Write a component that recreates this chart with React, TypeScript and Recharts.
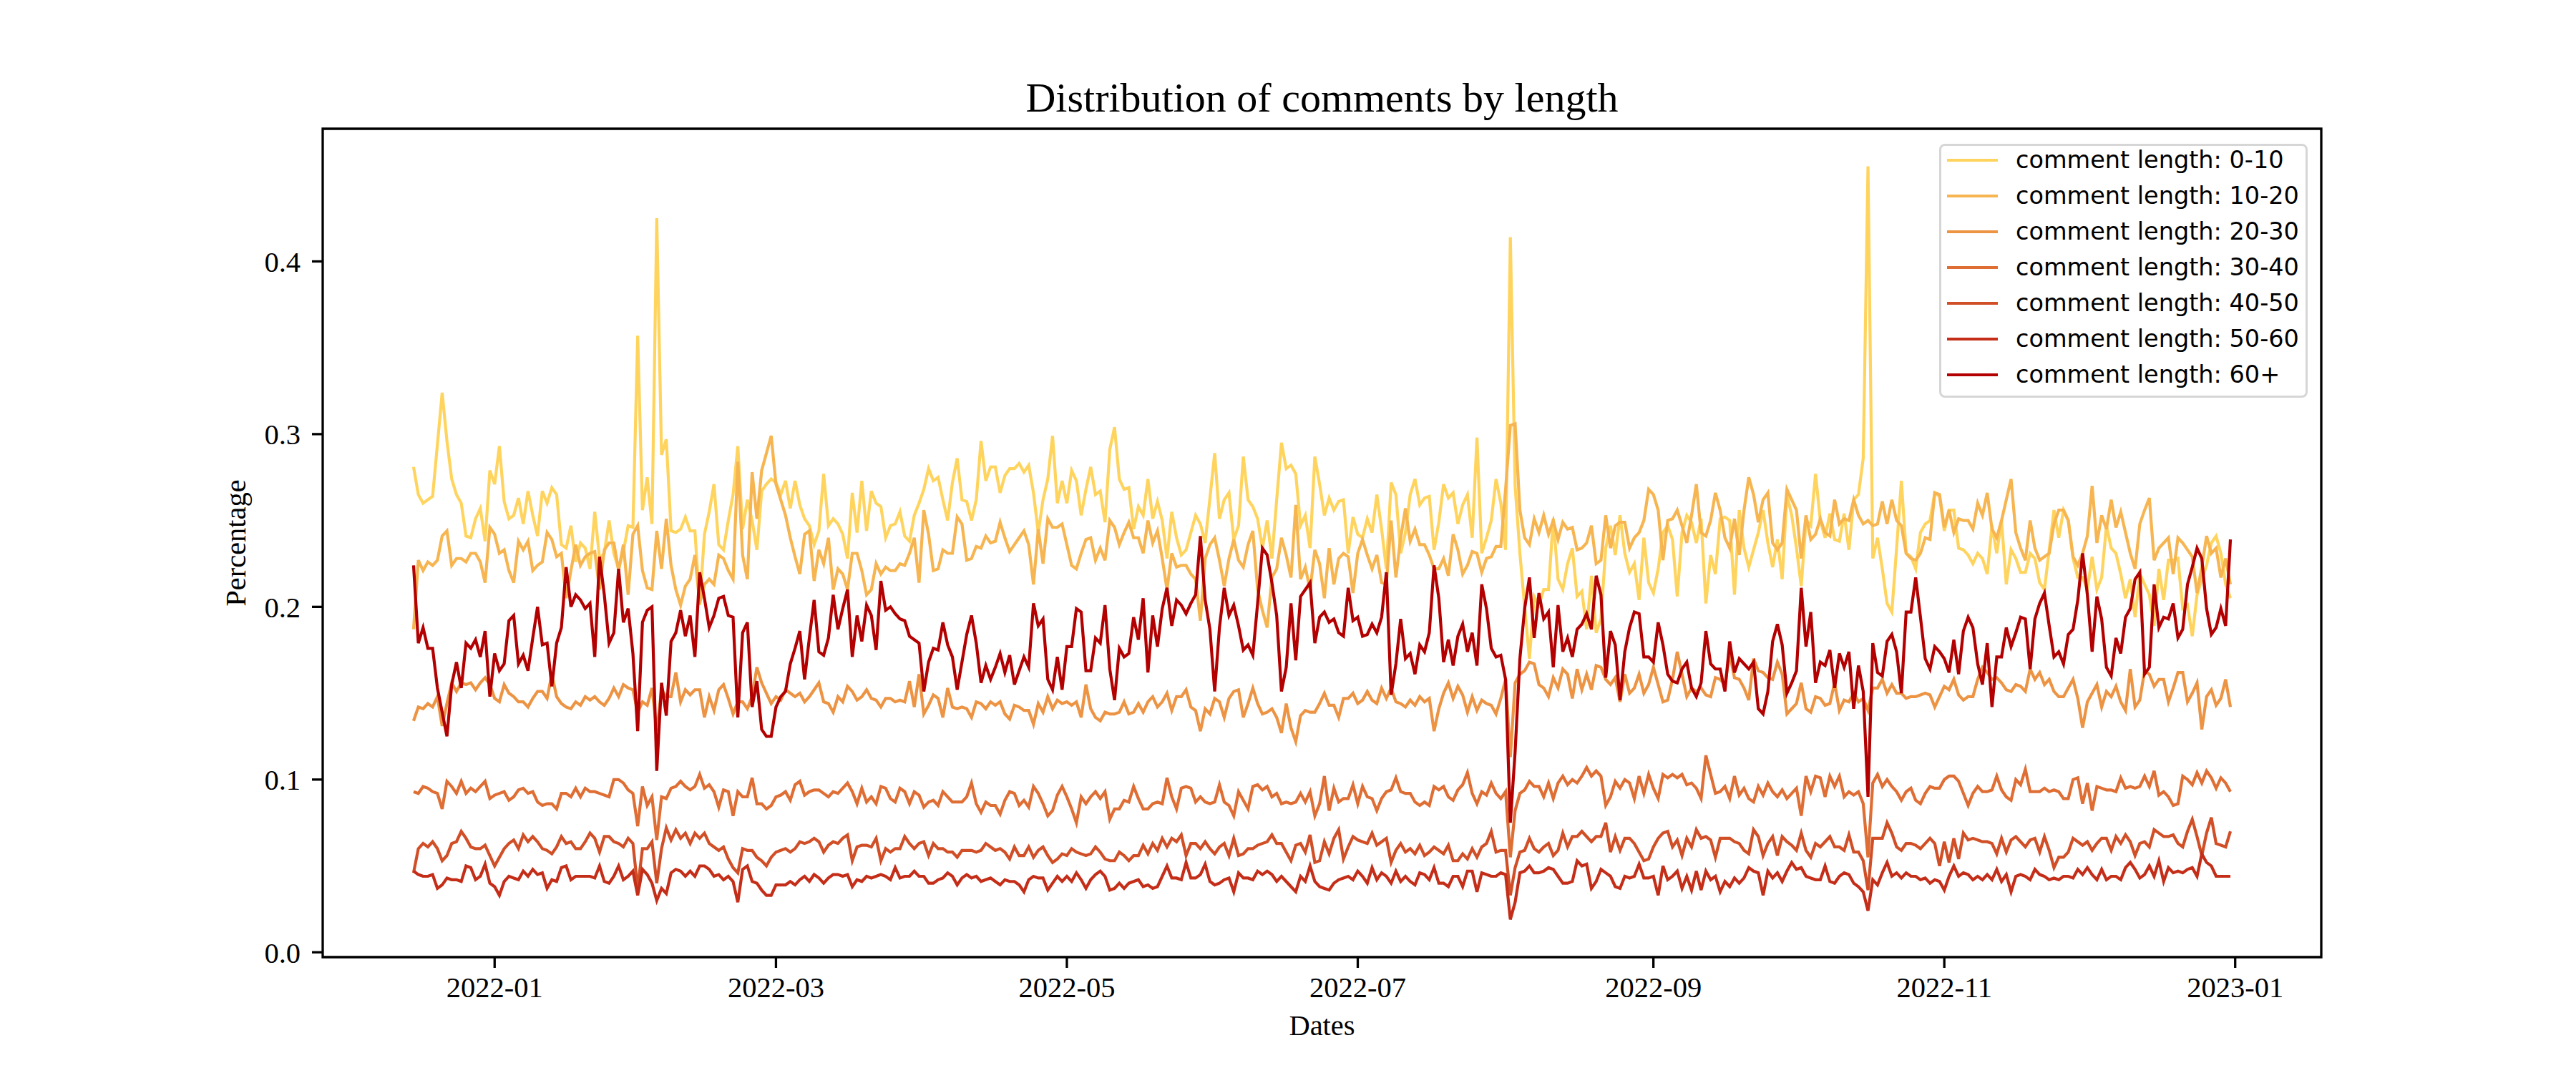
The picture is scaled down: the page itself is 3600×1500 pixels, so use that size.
import React from 'react';
import { LineChart, Line, XAxis, YAxis, ReferenceArea } from 'recharts';

// daily share of comments per length bucket, first day 2021-12-15
const startDate = '2021-12-15';

const seriesNames = [
  'comment length: 0-10',
  'comment length: 10-20',
  'comment length: 20-30',
  'comment length: 30-40',
  'comment length: 40-50',
  'comment length: 50-60',
  'comment length: 60+',
];
const seriesColors = ['#FFD45E', '#F6B550', '#EC9444', '#DF6E35', '#D14F27', '#C42E19', '#B30000'];

const share0to10 = [
  0.281, 0.265, 0.260, 0.262, 0.264, 0.294, 0.324, 0.296, 0.274, 0.265,
  0.260, 0.241, 0.240, 0.251, 0.257, 0.238, 0.279, 0.271, 0.293, 0.261,
  0.251, 0.253, 0.263, 0.248, 0.267, 0.253, 0.241, 0.267, 0.260, 0.269,
  0.265, 0.236, 0.234, 0.247, 0.226, 0.237, 0.234, 0.222, 0.255, 0.228,
  0.231, 0.250, 0.231, 0.222, 0.232, 0.247, 0.246, 0.357, 0.256, 0.275,
  0.248, 0.425, 0.288, 0.297, 0.244, 0.243, 0.245, 0.252, 0.244, 0.244,
  0.201, 0.242, 0.255, 0.271, 0.236, 0.233, 0.250, 0.265, 0.293, 0.245,
  0.262, 0.250, 0.233, 0.267, 0.271, 0.274, 0.272, 0.265, 0.273, 0.257,
  0.273, 0.259, 0.251, 0.247, 0.236,
  0.244, 0.277, 0.247, 0.251, 0.248, 0.242, 0.228, 0.266, 0.243, 0.273,
  0.244, 0.267, 0.260, 0.258, 0.240, 0.247, 0.248, 0.255, 0.241, 0.238,
  0.253, 0.260, 0.268, 0.280, 0.273, 0.275, 0.262, 0.250, 0.272, 0.286,
  0.262, 0.261, 0.250, 0.262, 0.296, 0.273, 0.281, 0.281, 0.266, 0.276,
  0.280, 0.280, 0.283, 0.278, 0.282, 0.266, 0.243, 0.262, 0.274, 0.299,
  0.260, 0.273, 0.260, 0.279, 0.273, 0.253, 0.268, 0.281, 0.265, 0.267,
  0.249, 0.291, 0.304, 0.274, 0.268, 0.269, 0.245, 0.258, 0.253, 0.274,
  0.251, 0.261, 0.250, 0.228, 0.255, 0.240, 0.230, 0.233, 0.243, 0.253,
  0.248, 0.237, 0.263, 0.289, 0.251, 0.262, 0.266, 0.239, 0.247, 0.287,
  0.262, 0.258, 0.251, 0.234, 0.250, 0.228, 0.262, 0.295, 0.280, 0.282,
  0.277, 0.247, 0.253, 0.234, 0.287,
  0.271, 0.253, 0.263, 0.256, 0.261, 0.262, 0.231, 0.252, 0.242, 0.240,
  0.251, 0.243, 0.265, 0.245, 0.222, 0.272, 0.265, 0.231, 0.243, 0.265,
  0.274, 0.259, 0.263, 0.264, 0.233, 0.249, 0.271, 0.263, 0.266, 0.248,
  0.259, 0.265, 0.240, 0.298, 0.231, 0.240, 0.250, 0.274, 0.260, 0.233,
  0.414, 0.270, 0.231, 0.200, 0.170, 0.206, 0.201, 0.210, 0.210, 0.251,
  0.216, 0.210, 0.225, 0.234, 0.206, 0.209, 0.187, 0.218, 0.185, 0.193,
  0.234, 0.247, 0.230, 0.253, 0.231, 0.220, 0.225, 0.204, 0.240, 0.214,
  0.208, 0.222, 0.243, 0.247, 0.239, 0.206, 0.243, 0.253, 0.249, 0.237,
  0.251, 0.202, 0.230, 0.219, 0.251, 0.252, 0.250, 0.207, 0.256, 0.234,
  0.223, 0.233, 0.243, 0.256, 0.237, 0.223, 0.239, 0.216, 0.265, 0.253,
  0.234, 0.212, 0.250, 0.247, 0.277,
  0.250, 0.240, 0.254, 0.239, 0.238, 0.254, 0.233, 0.262, 0.265, 0.286,
  0.455, 0.228, 0.240, 0.222, 0.202, 0.197, 0.234, 0.273, 0.231, 0.229,
  0.222, 0.243, 0.248, 0.250, 0.266, 0.264, 0.244, 0.256, 0.256, 0.234,
  0.233, 0.230, 0.225, 0.231, 0.228, 0.219, 0.247, 0.231, 0.250, 0.213,
  0.233, 0.228, 0.220, 0.220, 0.231, 0.228, 0.214, 0.210, 0.233, 0.256,
  0.240, 0.256, 0.250, 0.228, 0.217, 0.217, 0.210, 0.229, 0.210, 0.217,
  0.247, 0.234, 0.231, 0.219, 0.205, 0.216, 0.194, 0.219, 0.213, 0.207,
  0.189, 0.222, 0.204, 0.227, 0.227, 0.228, 0.199, 0.201, 0.183, 0.207,
  0.216, 0.224, 0.237, 0.241, 0.231, 0.213, 0.205,
];

const share10to20 = [
  0.187, 0.227, 0.221, 0.226, 0.224, 0.227, 0.241, 0.244, 0.224, 0.228,
  0.228, 0.226, 0.231, 0.231, 0.226, 0.214, 0.246, 0.242, 0.231, 0.233,
  0.221, 0.214, 0.238, 0.233, 0.238, 0.221, 0.224, 0.226, 0.243, 0.239,
  0.229, 0.231, 0.205, 0.221, 0.236, 0.224, 0.229, 0.231, 0.232, 0.210,
  0.233, 0.237, 0.237, 0.221, 0.236, 0.207, 0.242, 0.247, 0.221, 0.211,
  0.210, 0.244, 0.222, 0.251, 0.224, 0.210, 0.201, 0.212, 0.216, 0.230,
  0.202, 0.213, 0.216, 0.213, 0.230, 0.228, 0.221, 0.216, 0.284, 0.230,
  0.216, 0.278, 0.251, 0.279, 0.289, 0.299, 0.271, 0.262, 0.253, 0.240,
  0.229, 0.219, 0.242, 0.244, 0.215,
  0.233, 0.225, 0.240, 0.210, 0.222, 0.219, 0.210, 0.231, 0.231, 0.221,
  0.207, 0.210, 0.225, 0.219, 0.223, 0.221, 0.221, 0.225, 0.224, 0.231,
  0.240, 0.214, 0.256, 0.242, 0.221, 0.222, 0.233, 0.231, 0.231, 0.252,
  0.248, 0.227, 0.228, 0.235, 0.234, 0.241, 0.237, 0.238, 0.249, 0.240,
  0.232, 0.236, 0.240, 0.244, 0.236, 0.213, 0.245, 0.225, 0.251, 0.246,
  0.246, 0.248, 0.236, 0.224, 0.222, 0.231, 0.239, 0.240, 0.227, 0.234,
  0.227, 0.250, 0.246, 0.236, 0.243, 0.249, 0.240, 0.240, 0.231, 0.250,
  0.237, 0.244, 0.228, 0.210, 0.231, 0.223, 0.224, 0.224, 0.219, 0.216,
  0.192, 0.228, 0.236, 0.240, 0.227, 0.212, 0.228, 0.239, 0.227, 0.223,
  0.236, 0.244, 0.210, 0.198, 0.188, 0.217, 0.222, 0.240, 0.230, 0.217,
  0.259, 0.216, 0.223, 0.210, 0.233,
  0.225, 0.205, 0.234, 0.213, 0.228, 0.231, 0.229, 0.208, 0.231, 0.239,
  0.230, 0.222, 0.230, 0.214, 0.213, 0.250, 0.217, 0.240, 0.257, 0.238,
  0.245, 0.236, 0.236, 0.230, 0.222, 0.222, 0.228, 0.218, 0.242, 0.233,
  0.219, 0.224, 0.232, 0.231, 0.220, 0.228, 0.229, 0.235, 0.235, 0.268,
  0.305, 0.306, 0.256, 0.240, 0.236, 0.251, 0.243, 0.253, 0.242, 0.250,
  0.239, 0.249, 0.245, 0.246, 0.233, 0.234, 0.237, 0.247, 0.225, 0.227,
  0.253, 0.234, 0.247, 0.249, 0.249, 0.234, 0.240, 0.243, 0.250, 0.268,
  0.265, 0.256, 0.227, 0.250, 0.251, 0.256, 0.247, 0.237, 0.253, 0.271,
  0.243, 0.241, 0.250, 0.266, 0.256, 0.240, 0.234, 0.251, 0.230, 0.256,
  0.275, 0.265, 0.249, 0.262, 0.266, 0.237, 0.233, 0.237, 0.268, 0.262,
  0.256, 0.228, 0.253, 0.239, 0.242,
  0.251, 0.243, 0.241, 0.262, 0.248, 0.251, 0.250, 0.262, 0.253, 0.248,
  0.250, 0.247, 0.248, 0.261, 0.248, 0.262, 0.250, 0.247, 0.231, 0.228,
  0.227, 0.231, 0.240, 0.239, 0.266, 0.265, 0.246, 0.256, 0.243, 0.251,
  0.250, 0.250, 0.245, 0.260, 0.253, 0.266, 0.245, 0.240, 0.250, 0.262,
  0.274, 0.243, 0.234, 0.227, 0.250, 0.234, 0.227, 0.229, 0.231, 0.248,
  0.256, 0.256, 0.250, 0.229, 0.224, 0.231, 0.241, 0.270, 0.237, 0.253,
  0.245, 0.262, 0.246, 0.255, 0.243, 0.231, 0.222, 0.248, 0.256, 0.263,
  0.227, 0.234, 0.237, 0.240, 0.219, 0.240, 0.237, 0.233, 0.229, 0.208,
  0.223, 0.241, 0.231, 0.234, 0.217, 0.228, 0.213,
];

const share20to30 = [
  0.134, 0.142, 0.141, 0.144, 0.142, 0.148, 0.131, 0.144, 0.156, 0.151,
  0.156, 0.155, 0.156, 0.152, 0.156, 0.159, 0.155, 0.147, 0.145, 0.155,
  0.150, 0.148, 0.145, 0.145, 0.142, 0.147, 0.151, 0.151, 0.147, 0.161,
  0.148, 0.144, 0.142, 0.141, 0.145, 0.143, 0.148, 0.146, 0.148, 0.145,
  0.143, 0.147, 0.153, 0.148, 0.155, 0.153, 0.152, 0.139, 0.145, 0.143,
  0.153, 0.128, 0.152, 0.148, 0.148, 0.162, 0.145, 0.152, 0.149, 0.152,
  0.152, 0.136, 0.148, 0.140, 0.152, 0.155, 0.147, 0.138, 0.145, 0.145,
  0.141, 0.148, 0.165, 0.156, 0.150, 0.144, 0.148, 0.146, 0.152, 0.150,
  0.148, 0.150, 0.145, 0.148, 0.152,
  0.156, 0.145, 0.144, 0.139, 0.148, 0.145, 0.154, 0.151, 0.146, 0.148,
  0.152, 0.147, 0.146, 0.142, 0.147, 0.147, 0.145, 0.146, 0.145, 0.157,
  0.142, 0.161, 0.138, 0.143, 0.149, 0.147, 0.136, 0.153, 0.142, 0.141,
  0.142, 0.141, 0.136, 0.145, 0.144, 0.141, 0.145, 0.143, 0.145, 0.138,
  0.135, 0.143, 0.142, 0.140, 0.140, 0.132, 0.144, 0.139, 0.148, 0.141,
  0.146, 0.144, 0.145, 0.143, 0.145, 0.136, 0.155, 0.141, 0.136, 0.134,
  0.139, 0.138, 0.138, 0.139, 0.145, 0.138, 0.139, 0.144, 0.139, 0.145,
  0.148, 0.142, 0.145, 0.150, 0.140, 0.148, 0.148, 0.152, 0.142, 0.140,
  0.128, 0.141, 0.138, 0.147, 0.145, 0.136, 0.147, 0.151, 0.152, 0.136,
  0.144, 0.153, 0.144, 0.138, 0.139, 0.141, 0.136, 0.127, 0.144, 0.130,
  0.122, 0.137, 0.140, 0.139, 0.139,
  0.144, 0.150, 0.143, 0.143, 0.136, 0.147, 0.147, 0.150, 0.144, 0.146,
  0.151, 0.146, 0.144, 0.153, 0.147, 0.153, 0.145, 0.144, 0.142, 0.146,
  0.143, 0.148, 0.145, 0.147, 0.128, 0.141, 0.150, 0.156, 0.147, 0.154,
  0.149, 0.139, 0.148, 0.140, 0.146, 0.144, 0.143, 0.138, 0.147, 0.158,
  0.113, 0.156, 0.161, 0.163, 0.168, 0.167, 0.155, 0.153, 0.148, 0.159,
  0.153, 0.164, 0.161, 0.147, 0.164, 0.152, 0.161, 0.152, 0.166, 0.165,
  0.158, 0.155, 0.159, 0.145, 0.161, 0.150, 0.153, 0.161, 0.150, 0.155,
  0.165, 0.155, 0.145, 0.146, 0.158, 0.174, 0.161, 0.148, 0.153, 0.151,
  0.153, 0.149, 0.148, 0.159, 0.158, 0.155, 0.173, 0.159, 0.158, 0.153,
  0.146, 0.170, 0.163, 0.162, 0.159, 0.158, 0.168, 0.161, 0.138, 0.141,
  0.144, 0.156, 0.141, 0.139, 0.148,
  0.147, 0.143, 0.144, 0.156, 0.140, 0.146, 0.145, 0.150, 0.145, 0.147,
  0.140, 0.153, 0.153, 0.158, 0.150, 0.155, 0.150, 0.150, 0.147, 0.148,
  0.148, 0.149, 0.150, 0.149, 0.142, 0.148, 0.154, 0.152, 0.158, 0.149,
  0.146, 0.148, 0.148, 0.158, 0.165, 0.162, 0.158, 0.159, 0.156, 0.152,
  0.151, 0.155, 0.154, 0.151, 0.164, 0.158, 0.162, 0.155, 0.158, 0.151,
  0.148, 0.148, 0.153, 0.158, 0.147, 0.130, 0.145, 0.150, 0.155, 0.142,
  0.151, 0.148, 0.154, 0.145, 0.140, 0.164, 0.142, 0.146, 0.163, 0.161,
  0.154, 0.158, 0.158, 0.145, 0.153, 0.162, 0.162, 0.145, 0.150, 0.156,
  0.129, 0.148, 0.152, 0.143, 0.147, 0.158, 0.142,
];

const share30to40 = [
  0.093, 0.092, 0.096, 0.095, 0.093, 0.092, 0.083, 0.099, 0.096, 0.092,
  0.099, 0.092, 0.095, 0.093, 0.096, 0.099, 0.089, 0.091, 0.092, 0.093,
  0.088, 0.090, 0.094, 0.095, 0.092, 0.093, 0.087, 0.085, 0.086, 0.086,
  0.083, 0.092, 0.092, 0.090, 0.095, 0.090, 0.095, 0.093, 0.093, 0.092,
  0.091, 0.090, 0.100, 0.100, 0.098, 0.094, 0.092, 0.073, 0.096, 0.085,
  0.090, 0.065, 0.090, 0.089, 0.095, 0.096, 0.099, 0.096, 0.094, 0.096,
  0.103, 0.095, 0.097, 0.093, 0.084, 0.094, 0.093, 0.079, 0.093, 0.090,
  0.090, 0.101, 0.086, 0.086, 0.083, 0.085, 0.090, 0.091, 0.093, 0.088,
  0.097, 0.099, 0.091, 0.093, 0.094,
  0.094, 0.092, 0.090, 0.093, 0.092, 0.095, 0.098, 0.093, 0.086, 0.095,
  0.087, 0.090, 0.086, 0.096, 0.095, 0.089, 0.087, 0.095, 0.093, 0.086,
  0.093, 0.091, 0.084, 0.087, 0.088, 0.085, 0.093, 0.090, 0.087, 0.087,
  0.087, 0.090, 0.098, 0.086, 0.081, 0.087, 0.085, 0.085, 0.080, 0.088,
  0.093, 0.092, 0.085, 0.088, 0.084, 0.096, 0.092, 0.086, 0.079, 0.082,
  0.091, 0.096, 0.090, 0.083, 0.075, 0.090, 0.086, 0.090, 0.093, 0.089,
  0.093, 0.077, 0.083, 0.083, 0.088, 0.087, 0.096, 0.089, 0.083, 0.083,
  0.086, 0.087, 0.086, 0.101, 0.090, 0.083, 0.095, 0.096, 0.095, 0.087,
  0.090, 0.087, 0.086, 0.087, 0.097, 0.087, 0.085, 0.079, 0.093, 0.088,
  0.083, 0.096, 0.097, 0.094, 0.096, 0.090, 0.092, 0.086, 0.087, 0.086,
  0.087, 0.092, 0.087, 0.093, 0.079,
  0.086, 0.102, 0.082, 0.095, 0.087, 0.089, 0.089, 0.097, 0.086, 0.096,
  0.090, 0.089, 0.082, 0.089, 0.093, 0.094, 0.101, 0.093, 0.092, 0.092,
  0.087, 0.085, 0.087, 0.085, 0.096, 0.094, 0.096, 0.090, 0.088, 0.094,
  0.097, 0.104, 0.092, 0.086, 0.093, 0.091, 0.098, 0.092, 0.089, 0.093,
  0.055, 0.082, 0.092, 0.094, 0.099, 0.096, 0.096, 0.090, 0.098, 0.089,
  0.098, 0.102, 0.097, 0.100, 0.098, 0.102, 0.107, 0.102, 0.105, 0.102,
  0.085, 0.090, 0.099, 0.095, 0.100, 0.098, 0.089, 0.102, 0.092, 0.103,
  0.095, 0.089, 0.103, 0.101, 0.103, 0.101, 0.103, 0.097, 0.098, 0.095,
  0.089, 0.114, 0.103, 0.092, 0.093, 0.096, 0.089, 0.102, 0.091, 0.095,
  0.089, 0.087, 0.096, 0.091, 0.098, 0.093, 0.090, 0.094, 0.089, 0.092,
  0.095, 0.079, 0.102, 0.093, 0.102,
  0.101, 0.090, 0.102, 0.096, 0.102, 0.090, 0.093, 0.091, 0.093, 0.086,
  0.055, 0.098, 0.103, 0.096, 0.100, 0.096, 0.093, 0.088, 0.093, 0.095,
  0.088, 0.086, 0.092, 0.096, 0.095, 0.095, 0.100, 0.102, 0.102, 0.099,
  0.092, 0.085, 0.092, 0.096, 0.093, 0.093, 0.094, 0.102, 0.094, 0.090,
  0.088, 0.100, 0.097, 0.106, 0.093, 0.093, 0.093, 0.095, 0.093, 0.094,
  0.093, 0.089, 0.089, 0.100, 0.101, 0.086, 0.098, 0.082, 0.096, 0.095,
  0.094, 0.094, 0.093, 0.101, 0.095, 0.096, 0.095, 0.096, 0.102, 0.096,
  0.105, 0.091, 0.093, 0.090, 0.085, 0.086, 0.102, 0.100, 0.097, 0.104,
  0.098, 0.105, 0.101, 0.095, 0.101, 0.098, 0.093,
];

const share40to50 = [
  0.046, 0.060, 0.063, 0.061, 0.064, 0.060, 0.053, 0.056, 0.063, 0.064,
  0.070, 0.066, 0.061, 0.060, 0.060, 0.062, 0.056, 0.050, 0.055, 0.060,
  0.063, 0.065, 0.060, 0.068, 0.064, 0.067, 0.064, 0.060, 0.059, 0.057,
  0.061, 0.067, 0.063, 0.064, 0.060, 0.060, 0.064, 0.069, 0.066, 0.058,
  0.067, 0.067, 0.064, 0.063, 0.061, 0.066, 0.063, 0.037, 0.060, 0.060,
  0.064, 0.040, 0.060, 0.072, 0.065, 0.071, 0.066, 0.069, 0.063, 0.069,
  0.066, 0.069, 0.063, 0.061, 0.059, 0.061, 0.054, 0.049, 0.046, 0.060,
  0.059, 0.059, 0.055, 0.053, 0.050, 0.055, 0.058, 0.059, 0.060, 0.058,
  0.060, 0.064, 0.063, 0.064, 0.066,
  0.064, 0.058, 0.062, 0.064, 0.063, 0.066, 0.068, 0.053, 0.061, 0.062,
  0.062, 0.061, 0.066, 0.053, 0.060, 0.058, 0.060, 0.060, 0.067, 0.063,
  0.060, 0.063, 0.064, 0.056, 0.063, 0.060, 0.060, 0.058, 0.058, 0.055,
  0.059, 0.059, 0.059, 0.058, 0.059, 0.063, 0.061, 0.059, 0.060, 0.058,
  0.054, 0.061, 0.056, 0.056, 0.061, 0.055, 0.059, 0.061, 0.056, 0.052,
  0.054, 0.057, 0.056, 0.060, 0.058, 0.057, 0.056, 0.057, 0.061, 0.058,
  0.054, 0.053, 0.053, 0.058, 0.056, 0.053, 0.056, 0.056, 0.062, 0.057,
  0.063, 0.059, 0.066, 0.061, 0.066, 0.064, 0.068, 0.056, 0.063, 0.063,
  0.060, 0.064, 0.060, 0.057, 0.061, 0.063, 0.056, 0.066, 0.056, 0.057,
  0.060, 0.060, 0.062, 0.063, 0.064, 0.068, 0.063, 0.063, 0.058, 0.053,
  0.062, 0.063, 0.058, 0.068, 0.052,
  0.053, 0.064, 0.057, 0.066, 0.071, 0.054, 0.061, 0.067, 0.065, 0.064,
  0.063, 0.069, 0.062, 0.064, 0.066, 0.052, 0.059, 0.063, 0.058, 0.060,
  0.057, 0.062, 0.056, 0.058, 0.061, 0.059, 0.057, 0.062, 0.053, 0.053,
  0.057, 0.054, 0.060, 0.055, 0.061, 0.063, 0.070, 0.058, 0.059, 0.059,
  0.033, 0.049, 0.058, 0.059, 0.066, 0.060, 0.058, 0.061, 0.063, 0.056,
  0.059, 0.069, 0.061, 0.067, 0.067, 0.070, 0.067, 0.064, 0.067, 0.067,
  0.075, 0.058, 0.067, 0.059, 0.066, 0.066, 0.063, 0.058, 0.053, 0.054,
  0.061, 0.066, 0.069, 0.070, 0.061, 0.065, 0.056, 0.066, 0.061, 0.071,
  0.066, 0.067, 0.065, 0.055, 0.066, 0.066, 0.066, 0.064, 0.063, 0.059,
  0.057, 0.071, 0.067, 0.056, 0.063, 0.067, 0.056, 0.067, 0.064, 0.062,
  0.059, 0.069, 0.059, 0.055, 0.063,
  0.061, 0.064, 0.067, 0.061, 0.061, 0.059, 0.068, 0.058, 0.058, 0.053,
  0.036, 0.066, 0.066, 0.066, 0.075, 0.069, 0.061, 0.059, 0.063, 0.063,
  0.062, 0.060, 0.063, 0.066, 0.063, 0.050, 0.064, 0.052, 0.066, 0.054,
  0.069, 0.065, 0.066, 0.065, 0.064, 0.064, 0.063, 0.057, 0.066, 0.058,
  0.065, 0.067, 0.064, 0.061, 0.065, 0.066, 0.058, 0.067, 0.059, 0.049,
  0.055, 0.055, 0.058, 0.066, 0.064, 0.062, 0.064, 0.059, 0.063, 0.066,
  0.066, 0.059, 0.067, 0.063, 0.068, 0.064, 0.056, 0.063, 0.064, 0.061,
  0.071, 0.069, 0.067, 0.067, 0.068, 0.063, 0.061, 0.070, 0.077, 0.067,
  0.056, 0.069, 0.078, 0.063, 0.062, 0.061, 0.070,
];

const share50to60 = [
  0.047, 0.045, 0.044, 0.044, 0.045, 0.037, 0.039, 0.043, 0.042, 0.042,
  0.041, 0.050, 0.049, 0.042, 0.044, 0.051, 0.040, 0.038, 0.033, 0.041,
  0.044, 0.043, 0.042, 0.047, 0.044, 0.048, 0.045, 0.046, 0.037, 0.042,
  0.041, 0.049, 0.050, 0.042, 0.044, 0.044, 0.044, 0.044, 0.043, 0.050,
  0.041, 0.040, 0.044, 0.050, 0.042, 0.044, 0.047, 0.033, 0.048, 0.045,
  0.040, 0.030, 0.037, 0.034, 0.046, 0.048, 0.047, 0.044, 0.047, 0.044,
  0.050, 0.050, 0.048, 0.044, 0.045, 0.042, 0.044, 0.041, 0.029, 0.048,
  0.050, 0.041, 0.040, 0.036, 0.033, 0.033, 0.039, 0.039, 0.039, 0.041,
  0.039, 0.042, 0.044, 0.041, 0.045,
  0.043, 0.040, 0.043, 0.045, 0.045, 0.044, 0.045, 0.038, 0.042, 0.041,
  0.044, 0.043, 0.044, 0.045, 0.044, 0.042, 0.049, 0.043, 0.044, 0.044,
  0.047, 0.044, 0.044, 0.040, 0.040, 0.042, 0.043, 0.046, 0.044, 0.039,
  0.043, 0.045, 0.043, 0.044, 0.041, 0.042, 0.043, 0.041, 0.039, 0.042,
  0.041, 0.041, 0.039, 0.035, 0.042, 0.044, 0.043, 0.043, 0.036, 0.040,
  0.044, 0.041, 0.044, 0.041, 0.046, 0.042, 0.037, 0.042, 0.045, 0.047,
  0.044, 0.036, 0.037, 0.040, 0.037, 0.040, 0.041, 0.042, 0.038, 0.039,
  0.037, 0.038, 0.044, 0.050, 0.043, 0.043, 0.042, 0.052, 0.043, 0.043,
  0.045, 0.051, 0.041, 0.039, 0.040, 0.042, 0.043, 0.035, 0.046, 0.043,
  0.043, 0.042, 0.047, 0.045, 0.047, 0.045, 0.041, 0.044, 0.041, 0.038,
  0.035, 0.044, 0.041, 0.050, 0.041,
  0.038, 0.037, 0.036, 0.040, 0.042, 0.043, 0.044, 0.042, 0.047, 0.044,
  0.040, 0.049, 0.042, 0.046, 0.044, 0.040, 0.047, 0.041, 0.044, 0.041,
  0.039, 0.046, 0.045, 0.042, 0.049, 0.040, 0.040, 0.038, 0.044, 0.044,
  0.038, 0.047, 0.047, 0.035, 0.046, 0.045, 0.044, 0.044, 0.046, 0.045,
  0.019, 0.029, 0.046, 0.047, 0.050, 0.046, 0.046, 0.047, 0.049, 0.048,
  0.044, 0.040, 0.040, 0.041, 0.053, 0.050, 0.051, 0.037, 0.041, 0.048,
  0.046, 0.044, 0.038, 0.037, 0.044, 0.043, 0.044, 0.051, 0.043, 0.043,
  0.044, 0.033, 0.050, 0.042, 0.044, 0.047, 0.037, 0.044, 0.036, 0.047,
  0.036, 0.047, 0.042, 0.044, 0.035, 0.041, 0.038, 0.043, 0.040, 0.043,
  0.049, 0.047, 0.046, 0.033, 0.047, 0.043, 0.046, 0.041, 0.047, 0.052,
  0.048, 0.049, 0.044, 0.043, 0.042,
  0.042, 0.050, 0.041, 0.040, 0.044, 0.046, 0.045, 0.040, 0.038, 0.035,
  0.024, 0.042, 0.039, 0.046, 0.052, 0.044, 0.046, 0.043, 0.046, 0.044,
  0.044, 0.042, 0.043, 0.040, 0.042, 0.041, 0.036, 0.044, 0.050, 0.044,
  0.046, 0.045, 0.042, 0.044, 0.042, 0.045, 0.042, 0.048, 0.041, 0.045,
  0.035, 0.044, 0.045, 0.044, 0.042, 0.048, 0.045, 0.044, 0.042, 0.043,
  0.042, 0.044, 0.044, 0.043, 0.048, 0.045, 0.049, 0.045, 0.042, 0.048,
  0.042, 0.044, 0.044, 0.042, 0.049, 0.052, 0.048, 0.043, 0.045, 0.050,
  0.044, 0.053, 0.041, 0.049, 0.046, 0.047, 0.046, 0.048, 0.049, 0.044,
  0.057, 0.052, 0.050, 0.044, 0.044, 0.044, 0.044,
];

const share60plus = [
  0.224, 0.179, 0.188, 0.176, 0.176, 0.153, 0.139, 0.125, 0.155, 0.168,
  0.153, 0.179, 0.176, 0.181, 0.171, 0.186, 0.148, 0.173, 0.163, 0.167,
  0.192, 0.195, 0.167, 0.172, 0.163, 0.182, 0.200, 0.178, 0.179, 0.154,
  0.179, 0.188, 0.223, 0.200, 0.207, 0.204, 0.199, 0.202, 0.171, 0.229,
  0.207, 0.179, 0.185, 0.222, 0.191, 0.199, 0.173, 0.128, 0.191, 0.198,
  0.200, 0.105, 0.156, 0.137, 0.180, 0.185, 0.198, 0.183, 0.195, 0.171,
  0.220, 0.205, 0.188, 0.195, 0.205, 0.206, 0.195, 0.194, 0.136, 0.185,
  0.191, 0.142, 0.157, 0.129, 0.125, 0.125, 0.142, 0.148, 0.151, 0.167,
  0.176, 0.186, 0.158, 0.182, 0.204,
  0.174, 0.172, 0.182, 0.207, 0.187, 0.199, 0.210, 0.171, 0.195, 0.180,
  0.201, 0.195, 0.175, 0.215, 0.198, 0.200, 0.196, 0.193, 0.192, 0.183,
  0.181, 0.179, 0.151, 0.168, 0.176, 0.175, 0.191, 0.178, 0.171, 0.152,
  0.168, 0.184, 0.195, 0.179, 0.156, 0.166, 0.158, 0.165, 0.173, 0.162,
  0.172, 0.155, 0.163, 0.171, 0.165, 0.202, 0.189, 0.193, 0.158, 0.152,
  0.171, 0.152, 0.177, 0.177, 0.199, 0.197, 0.163, 0.163, 0.182, 0.179,
  0.201, 0.164, 0.146, 0.176, 0.171, 0.173, 0.194, 0.181, 0.205, 0.162,
  0.195, 0.177, 0.199, 0.211, 0.189, 0.204, 0.201, 0.196, 0.202, 0.207,
  0.241, 0.204, 0.187, 0.151, 0.188, 0.211, 0.195, 0.201, 0.189, 0.175,
  0.178, 0.172, 0.202, 0.234, 0.230, 0.214, 0.195, 0.151, 0.165, 0.202,
  0.169, 0.206, 0.210, 0.214, 0.179,
  0.194, 0.197, 0.191, 0.193, 0.185, 0.183, 0.211, 0.192, 0.194, 0.183,
  0.184, 0.190, 0.185, 0.194, 0.220, 0.149, 0.167, 0.193, 0.170, 0.173,
  0.161, 0.178, 0.174, 0.185, 0.224, 0.205, 0.168, 0.181, 0.166, 0.183,
  0.190, 0.174, 0.185, 0.166, 0.213, 0.199, 0.176, 0.171, 0.172, 0.158,
  0.075, 0.116, 0.170, 0.199, 0.217, 0.182, 0.208, 0.193, 0.197, 0.165,
  0.201, 0.174, 0.182, 0.171, 0.187, 0.190, 0.196, 0.187, 0.218, 0.207,
  0.159, 0.186, 0.178, 0.146, 0.174, 0.188, 0.197, 0.196, 0.171, 0.171,
  0.168, 0.191, 0.178, 0.161, 0.157, 0.156, 0.164, 0.168, 0.153, 0.148,
  0.156, 0.186, 0.167, 0.164, 0.164, 0.151, 0.180, 0.162, 0.170, 0.167,
  0.164, 0.168, 0.141, 0.138, 0.151, 0.180, 0.190, 0.178, 0.150, 0.156,
  0.163, 0.211, 0.177, 0.197, 0.156,
  0.168, 0.166, 0.175, 0.153, 0.173, 0.165, 0.174, 0.141, 0.166, 0.151,
  0.090, 0.179, 0.162, 0.160, 0.180, 0.184, 0.174, 0.150, 0.197, 0.197,
  0.217, 0.194, 0.170, 0.164, 0.177, 0.174, 0.170, 0.162, 0.181, 0.161,
  0.186, 0.194, 0.188, 0.167, 0.155, 0.179, 0.142, 0.171, 0.171, 0.188,
  0.177, 0.185, 0.194, 0.193, 0.164, 0.193, 0.202, 0.208, 0.189, 0.171,
  0.174, 0.167, 0.184, 0.187, 0.204, 0.231, 0.207, 0.174, 0.206, 0.193,
  0.165, 0.160, 0.182, 0.173, 0.194, 0.199, 0.216, 0.220, 0.161, 0.165,
  0.213, 0.188, 0.194, 0.193, 0.202, 0.182, 0.187, 0.213, 0.223, 0.234,
  0.228, 0.199, 0.184, 0.188, 0.199, 0.189, 0.239,
];

const xTickLabels = ['2022-01', '2022-03', '2022-05', '2022-07', '2022-09', '2022-11', '2023-01'];
const yTicks = [0, 0.1, 0.2, 0.3, 0.4];

const allSeries = [share0to10, share10to20, share20to30, share30to40, share40to50, share50to60, share60plus];

const DAY = 24 * 3600 * 1000;
const t0 = Date.parse(startDate + 'T00:00:00Z');

const data = share0to10.map((_, i) => {
  const row: Record<string, number> = { t: t0 + i * DAY };
  allSeries.forEach((s, k) => {
    row['s' + k] = s[i];
  });
  return row;
});

// matplotlib-style 5% autoscale margins
const span = (share0to10.length - 1) * DAY;
const xDomain = [t0 - 0.05 * span, t0 + span + 0.05 * span];
const flat = allSeries.flat();
const yMin = Math.min(...flat);
const yMax = Math.max(...flat);
const yDomain = [yMin - 0.05 * (yMax - yMin), yMax + 0.05 * (yMax - yMin)];
const xTicks = xTickLabels.map((l) => Date.parse(l + '-01T00:00:00Z'));

const serif = '"Liberation Serif", "Times New Roman", serif';
const sans = '"DejaVu Sans", "Liberation Sans", sans-serif';

function LegendBox() {
  return (
    <div
      style={{
        position: 'absolute',
        left: 2710,
        top: 201,
        width: 515,
        height: 355,
        boxSizing: 'border-box',
        border: '3.3px solid #d6d6d6',
        borderRadius: 8,
        background: 'rgba(255,255,255,0.8)',
      }}
    >
      <div style={{ marginTop: -5 }}>
        {seriesNames.map((name, k) => (
          <div key={name} style={{ height: 50, display: 'flex', alignItems: 'center' }}>
            <svg width={71} height={8} style={{ marginLeft: 8, flex: 'none' }}>
              <line x1={0} y1={4} x2={71} y2={4} stroke={seriesColors[k]} strokeWidth={4.2} />
            </svg>
            <span
              style={{
                marginLeft: 25,
                fontFamily: sans,
                fontSize: 33.5,
                lineHeight: 1,
                color: '#000',
                whiteSpace: 'nowrap',
              }}
            >
              {name}
            </span>
          </div>
        ))}
      </div>
    </div>
  );
}

export default function App() {
  return (
    <div style={{ position: 'absolute', left: 0, top: 0, width: 3600, height: 1500, background: '#fff' }}>
      <LineChart
        width={3600}
        height={1500}
        data={data}
        margin={{ top: 180, right: 356, bottom: 62, left: 341 }}
      >
        <XAxis
          dataKey="t"
          type="number"
          domain={xDomain}
          allowDataOverflow
          ticks={xTicks}
          interval={0}
          tickFormatter={(v: number) => new Date(v).toISOString().slice(0, 7)}
          height={100}
          axisLine={false}
          tickSize={15}
          tickMargin={12}
          tickLine={{ stroke: '#000', strokeWidth: 3.3 }}
          tick={{ fill: '#000', fontSize: 40.5, fontFamily: serif }}
        />
        <YAxis
          type="number"
          domain={yDomain}
          allowDataOverflow
          ticks={yTicks}
          interval={0}
          tickFormatter={(v: number) => v.toFixed(1)}
          width={110}
          axisLine={false}
          tickSize={15}
          tickMargin={16}
          tickLine={{ stroke: '#000', strokeWidth: 3.3 }}
          tick={{ fill: '#000', fontSize: 40.5, fontFamily: serif }}
        />
        {seriesNames.map((name, k) => (
          <Line
            key={name}
            name={name}
            dataKey={'s' + k}
            type="linear"
            stroke={seriesColors[k]}
            strokeWidth={4.2}
            dot={false}
            activeDot={false}
            isAnimationActive={false}
          />
        ))}
        <ReferenceArea
          x1={xDomain[0]}
          x2={xDomain[1]}
          y1={yDomain[0]}
          y2={yDomain[1]}
          ifOverflow="visible"
          fill="none"
          fillOpacity={0}
          stroke="#000"
          strokeWidth={3.3}
        />
      </LineChart>
      <svg
        width={3600}
        height={1500}
        style={{ position: 'absolute', left: 0, top: 0, pointerEvents: 'none' }}
      >
        <text x={1847.5} y={156} textAnchor="middle" fontFamily={serif} fontSize={58} fill="#000">
          Distribution of comments by length
        </text>
        <text x={1847.5} y={1447} textAnchor="middle" fontFamily={serif} fontSize={40.5} fill="#000">
          Dates
        </text>
        <text
          transform="translate(343, 759) rotate(-90)"
          textAnchor="middle"
          fontFamily={serif}
          fontSize={40.5}
          fill="#000"
        >
          Percentage
        </text>
      </svg>
      <LegendBox />
    </div>
  );
}
